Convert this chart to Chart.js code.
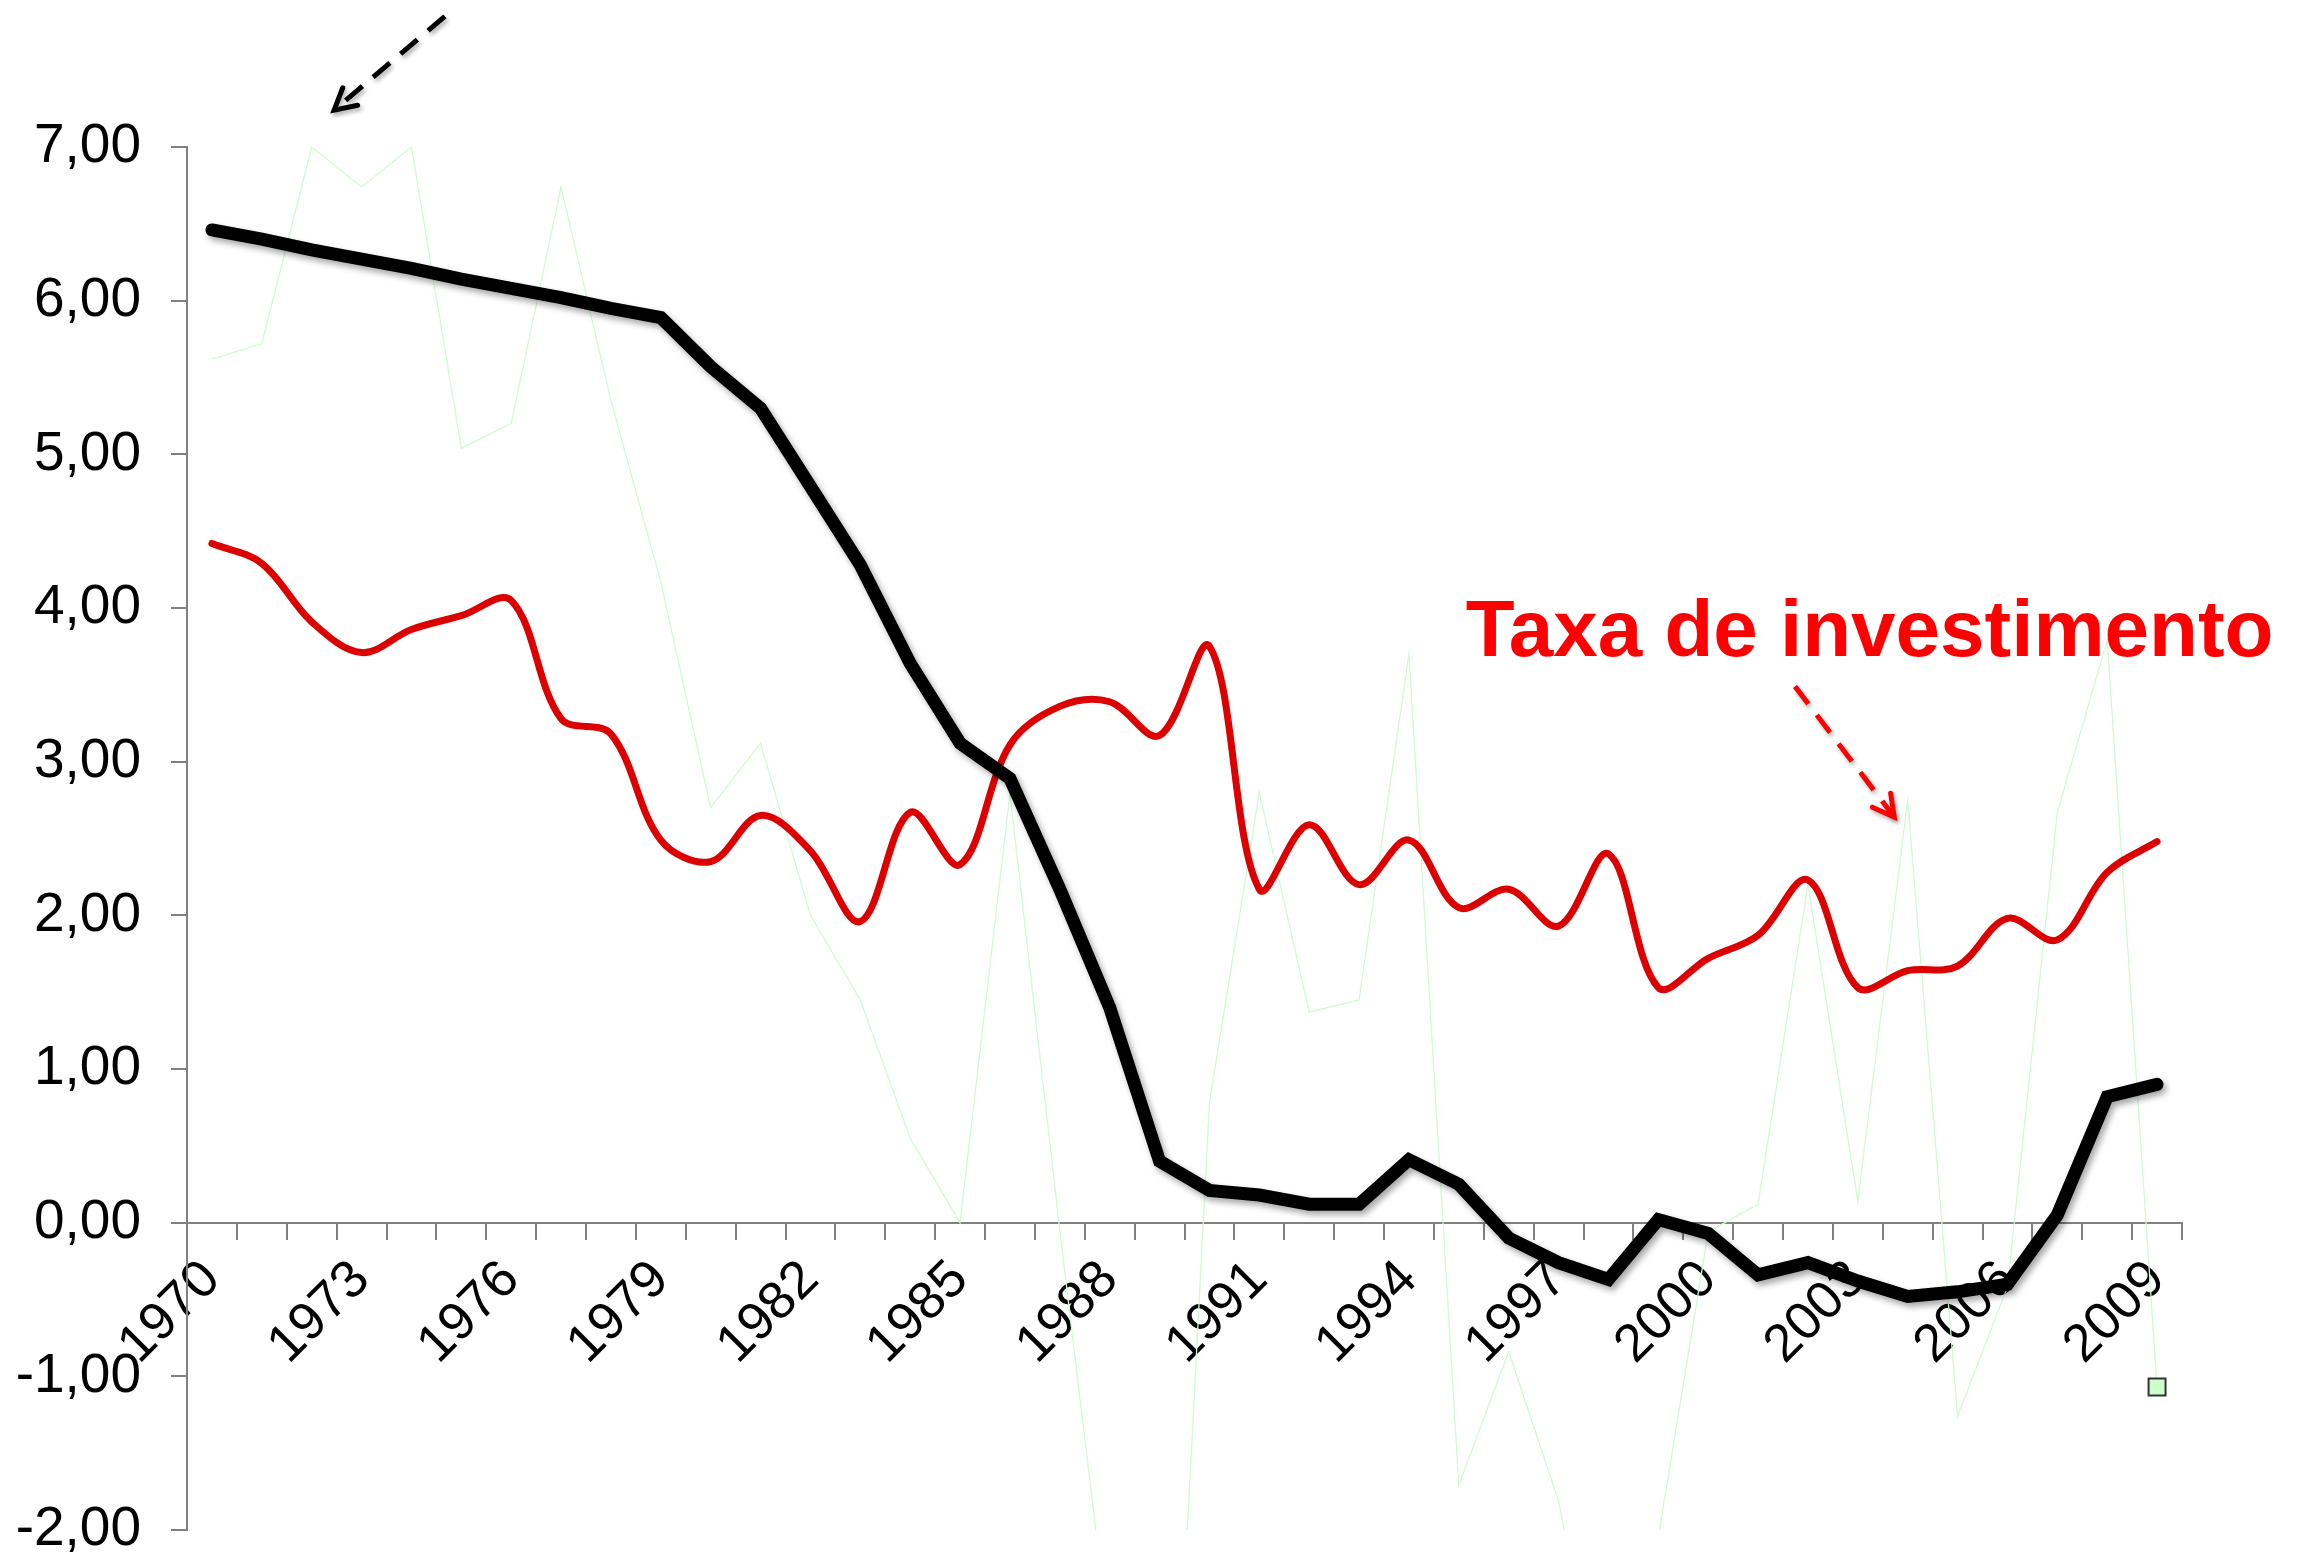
<!DOCTYPE html>
<html>
<head>
<meta charset="utf-8">
<script src="https://cdn.jsdelivr.net/npm/chart.js@4.4.1/dist/chart.umd.min.js"></script>
<style>
  html, body { margin: 0; padding: 0; background: #fff; }
  #chart { display: block; }
</style>
</head>
<body>
<canvas id="chart" width="2307" height="1557"></canvas>
<script>
// ── Data ──────────────────────────────────────────────────────
const years = [
  '1970', '1971', '1972', '1973', '1974', '1975', '1976', '1977', '1978', '1979',
  '1980', '1981', '1982', '1983', '1984', '1985', '1986', '1987', '1988', '1989',
  '1990', '1991', '1992', '1993', '1994', '1995', '1996', '1997', '1998', '1999',
  '2000', '2001', '2002', '2003', '2004', '2005', '2006', '2007', '2008', '2009',
];

// thick black series
const blackSeries = [
  6.46, 6.40, 6.33, 6.27, 6.21, 6.14, 6.08, 6.02, 5.95, 5.89,
  5.57, 5.30, 4.79, 4.28, 3.64, 3.12, 2.89, 2.17, 1.40, 0.40,
  0.21, 0.18, 0.12, 0.12, 0.41, 0.25, -0.10, -0.26, -0.37, 0.02,
  -0.07, -0.34, -0.26, -0.38, -0.48, -0.45, -0.40, 0.05, 0.82, 0.90,
];

// red smoothed series (Taxa de investimento)
const taxaInvestimento = [
  4.42, 4.29, 3.91, 3.71, 3.86, 3.95, 4.05, 3.28, 3.18, 2.49,
  2.35, 2.65, 2.42, 1.96, 2.67, 2.33, 3.11, 3.36, 3.39, 3.17,
  3.75, 2.17, 2.59, 2.20, 2.49, 2.05, 2.17, 1.93, 2.40, 1.53,
  1.72, 1.87, 2.23, 1.53, 1.64, 1.67, 1.98, 1.84, 2.28, 2.48,
];

// faint green series (runs off the bottom of the axis in places)
const greenSeries = [
  5.62, 5.72, 7.00, 6.74, 7.00, 5.04, 5.20, 6.74, 5.35, 4.17,
  2.70, 3.12, 2.00, 1.45, 0.55, 0.00, 2.79, -0.05, -2.75, -5.50,
  0.78, 2.80, 1.37, 1.45, 3.70, -1.71, -0.84, -1.81, -3.50, -2.05,
  -0.06, 0.12, 2.20, 0.14, 2.75, -1.26, -0.42, 2.67, 3.79, -1.07,
];

const yMin = -2;
const yMax = 7;
const labelEvery = 3;

// annotation positions, in [category index, value]
const noteText = { text: 'Taxa de investimento', at: [25.14, 3.69] };
const noteArrows = [
  { from: [31.74, 3.49], to: [33.73, 2.64], color: '#ff0000' },
  { from: [4.67, 7.85], to: [2.45, 7.24], color: '#000000' },
];

const fontFamily = '"Liberation Sans", Arial, sans-serif';
const axisGray = '#808080';
const lastIdx = years.length - 1;

// ── Plugins ───────────────────────────────────────────────────

// soft drop shadow under the black line
const lineShadow = {
  id: 'lineShadow',
  beforeDatasetDraw(chart, args) {
    if (args.index !== 0) return;
    const ctx = chart.ctx;
    ctx.save();
    ctx.shadowColor = 'rgba(0,0,0,0.35)';
    ctx.shadowBlur = 6;
    ctx.shadowOffsetX = 3;
    ctx.shadowOffsetY = 4;
  },
  afterDatasetDraw(chart, args) {
    if (args.index === 0) chart.ctx.restore();
  },
};

function drawArrow(ctx, x1, y1, x2, y2, color) {
  ctx.save();
  ctx.strokeStyle = color;
  ctx.lineWidth = 5;
  ctx.shadowColor = 'rgba(0,0,0,0.3)';
  ctx.shadowBlur = 4;
  ctx.shadowOffsetX = 2;
  ctx.shadowOffsetY = 3;
  ctx.setLineDash([22, 14]);
  ctx.beginPath();
  ctx.moveTo(x1, y1);
  ctx.lineTo(x2, y2);
  ctx.stroke();
  // open V head
  const ang = Math.atan2(y2 - y1, x2 - x1);
  const len = 24, spread = 0.5;
  ctx.setLineDash([]);
  ctx.lineCap = 'round';
  ctx.beginPath();
  ctx.moveTo(x2 - len * Math.cos(ang - spread), y2 - len * Math.sin(ang - spread));
  ctx.lineTo(x2, y2);
  ctx.lineTo(x2 - len * Math.cos(ang + spread), y2 - len * Math.sin(ang + spread));
  ctx.stroke();
  ctx.restore();
}

const annotations = {
  id: 'annotations',
  afterDraw(chart) {
    const { ctx, scales: { x, y } } = chart;
    noteArrows.forEach(a => {
      drawArrow(ctx,
        x.getPixelForValue(a.from[0]), y.getPixelForValue(a.from[1]),
        x.getPixelForValue(a.to[0]), y.getPixelForValue(a.to[1]), a.color);
    });
    ctx.save();
    ctx.fillStyle = '#ff0000';
    ctx.font = 'bold 80px ' + fontFamily;
    ctx.textAlign = 'left';
    ctx.textBaseline = 'alphabetic';
    ctx.fillText(noteText.text, x.getPixelForValue(noteText.at[0]), y.getPixelForValue(noteText.at[1]));
    ctx.restore();
  },
};

// ── Chart ─────────────────────────────────────────────────────

Chart.defaults.font.family = fontFamily;
Chart.defaults.color = '#000';

new Chart(document.getElementById('chart'), {
  type: 'line',
  data: {
    labels: years,
    datasets: [
      {
        data: blackSeries,
        borderColor: '#000000',
        borderWidth: 13,
        borderCapStyle: 'round',
        borderJoinStyle: 'miter',
        tension: 0,
        pointRadius: 0,
        order: 0,
      },
      {
        data: taxaInvestimento,
        borderColor: '#dd0000',
        borderWidth: 7,
        borderCapStyle: 'round',
        tension: 0.35,
        pointRadius: 0,
        order: 1,
      },
      {
        data: greenSeries,
        borderColor: '#d0fbd0',
        borderWidth: 1.3,
        tension: 0,
        pointStyle: 'rect',
        pointRadius: (c) => (c.dataIndex === lastIdx ? 12 : 0),
        pointBackgroundColor: '#ccffcc',
        pointBorderColor: '#333333',
        pointBorderWidth: 2,
        order: 2,
      },
    ],
  },
  options: {
    responsive: false,
    animation: false,
    devicePixelRatio: 1,
    layout: { padding: { left: 0, top: 147, right: 125, bottom: 27 } },
    plugins: {
      legend: { display: false },
      tooltip: { enabled: false },
    },
    scales: {
      x: {
        type: 'category',
        offset: true,
        position: { y: 0 },
        afterFit: (s) => { s.height = 0; },
        grid: {
          offset: true,
          drawOnChartArea: false,
          drawTicks: true,
          tickLength: 16,
          color: axisGray,
          lineWidth: 2,
        },
        border: { display: true, color: axisGray, width: 2 },
        ticks: {
          autoSkip: false,
          minRotation: 45,
          maxRotation: 45,
          padding: 10,
          color: '#000',
          font: { size: 53 },
          callback: (v, i) => (i % labelEvery === 0 ? years[i] : ''),
        },
      },
      y: {
        min: yMin,
        max: yMax,
        position: 'left',
        afterFit: (s) => { s.width = 187; s.paddingTop = 0; s.paddingBottom = 0; },
        grid: {
          drawOnChartArea: false,
          drawTicks: true,
          tickLength: 16,
          color: axisGray,
          lineWidth: 2,
        },
        border: { display: true, color: axisGray, width: 2 },
        ticks: {
          stepSize: 1,
          padding: 30,
          color: '#000',
          font: { size: 55 },
          callback: (v) => v.toFixed(2).replace('.', ','),
        },
      },
    },
  },
  plugins: [lineShadow, annotations],
});
</script>
</body>
</html>
